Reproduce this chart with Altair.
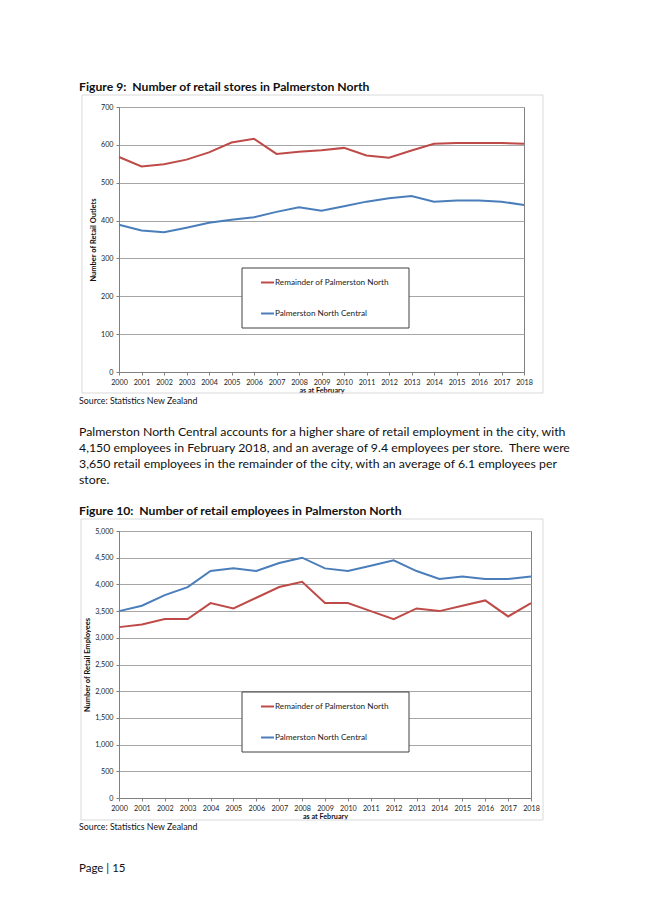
import altair as alt
import pandas as pd

years = list(range(2000, 2019))
series_names = ["Remainder of Palmerston North", "Palmerston North Central"]
series_colors = ["#be4b48", "#4a7ebb"]

stores_remainder = [568, 543, 549, 561, 580, 606, 616, 576, 582, 586, 592, 572, 566, 585, 603, 605, 605, 605, 603]
stores_central = [389, 374, 369, 381, 394, 402, 409, 423, 435, 426, 438, 450, 459, 465, 450, 453, 453, 450, 441]

emp_remainder = [3200, 3250, 3350, 3350, 3650, 3550, 3750, 3950, 4050, 3650, 3650, 3500, 3350, 3550, 3500, 3600, 3700, 3400, 3650]
emp_central = [3500, 3600, 3800, 3950, 4250, 4300, 4250, 4400, 4500, 4300, 4250, 4350, 4450, 4250, 4100, 4150, 4100, 4100, 4150]

fig9_title = "Figure 9:\u00a0 Number of retail stores in Palmerston North"
fig10_title = "Figure 10:\u00a0 Number of retail employees in Palmerston North"
source_text = "Source: Statistics New Zealand"
paragraph = [
    "Palmerston North Central accounts for a higher share of retail employment in the city, with",
    "4,150 employees in February 2018, and an average of 9.4 employees per store.\u00a0 There were",
    "3,650 retail employees in the remainder of the city, with an average of 6.1 employees per",
    "store.",
]
page_text = "Page | 15"

FONT = "Lato"
AXIS_COL = "#808080"


def text_layer(txt, x, y, size, weight="normal"):
    return alt.Chart(pd.DataFrame({"t": [txt]})).mark_text(
        align="left", baseline="middle", font=FONT, fontSize=size,
        fontWeight=weight, color="#111111"
    ).encode(x=alt.value(x), y=alt.value(y), text="t:N")


def figure(rem, cen, ymax, ystep, yfmt, ytitle, w, h, frame, extra):
    rows = []
    for yr, a, b in zip(years, rem, cen):
        rows.append({"year": yr, "series": series_names[0], "value": a})
        rows.append({"year": yr, "series": series_names[1], "value": b})
    df = pd.DataFrame(rows)

    fx1, fx2, fy1, fy2 = frame
    frame_rect = alt.Chart(pd.DataFrame({"a": [0]})).mark_rect(
        filled=False, stroke="#d9d9d9", strokeWidth=1
    ).encode(x=alt.value(fx1), x2=alt.value(fx2), y=alt.value(fy1), y2=alt.value(fy2))

    lines = alt.Chart(df).mark_line(strokeWidth=2).encode(
        x=alt.X("year:Q", scale=alt.Scale(domain=[2000, 2018], nice=False, zero=False),
                axis=alt.Axis(values=years, format="d", title="as at February",
                              grid=False, tickSize=3, labelPadding=3, titlePadding=1,
                              labelOverlap=False, labelFlush=False,
                              labelFontSize=7.2, titleFontSize=7.2, titleFontWeight="bold")),
        y=alt.Y("value:Q", scale=alt.Scale(domain=[0, ymax], nice=False),
                axis=alt.Axis(values=list(range(0, ymax + 1, ystep)), format=yfmt,
                              title=ytitle, tickSize=3, labelPadding=3, titlePadding=3,
                              labelOverlap=False, labelFlush=False,
                              labelFontSize=7.2, titleFontSize=7.5, titleFontWeight="bold",
                              gridColor="#a6a6a6")),
        color=alt.Color("series:N", scale=alt.Scale(domain=series_names, range=series_colors),
                        legend=None),
        detail="series:N",
    )

    # legend box
    lx1, lx2, ly1, ly2 = 123, 290, 161, 221
    leg_box = alt.Chart(pd.DataFrame({"a": [0]})).mark_rect(
        fill="white", stroke="#404040", strokeWidth=1
    ).encode(x=alt.value(lx1), x2=alt.value(lx2), y=alt.value(ly1), y2=alt.value(ly2))
    leg_layers = [leg_box]
    for i, (nm, col) in enumerate(zip(series_names, series_colors)):
        yy = 175.5 + i * 31
        leg_layers.append(
            alt.Chart(pd.DataFrame({"a": [0]})).mark_rule(color=col, strokeWidth=2).encode(
                x=alt.value(142), x2=alt.value(155), y=alt.value(yy)))
        leg_layers.append(
            alt.Chart(pd.DataFrame({"t": [nm]})).mark_text(
                align="left", baseline="middle", font=FONT, fontSize=8.2, color="#222222"
            ).encode(x=alt.value(156), y=alt.value(yy), text="t:N"))

    return alt.layer(frame_rect, lines, *leg_layers, *extra).properties(width=w, height=h)


c1_extra = [text_layer(fig9_title, -40, -20, 12.2, "bold"),
            text_layer(source_text, -40, 294, 8.8)]
for i, ln in enumerate(paragraph):
    c1_extra.append(text_layer(ln, -40, 325 + 16 * i, 12.3))

c2_extra = [text_layer(fig10_title, -40, -20, 12.2, "bold"),
            text_layer(source_text, -40, 296, 8.8),
            text_layer(page_text, -40, 338, 11.5)]

c1 = figure(stores_remainder, stores_central, 700, 100, "d", "Number of Retail Outlets",
            405, 265, (-37, 424, -12, 286), c1_extra)
c2 = figure(emp_remainder, emp_central, 5000, 500, ",d", "Number of Retail Employees",
            412, 267, (-38, 424, -12, 289), c2_extra)

chart = alt.vconcat(c1, c2, spacing=17).properties(
    padding={"left": 70, "top": 72, "right": 0, "bottom": 0},
    background="white",
).configure_view(stroke=AXIS_COL, strokeWidth=1).configure_axis(
    domainColor=AXIS_COL, tickColor=AXIS_COL, labelColor="#222222", titleColor="#111111",
    labelFont=FONT, titleFont=FONT,
)

chart.save("out.html", embed_options={"renderer": "svg", "actions": False})
